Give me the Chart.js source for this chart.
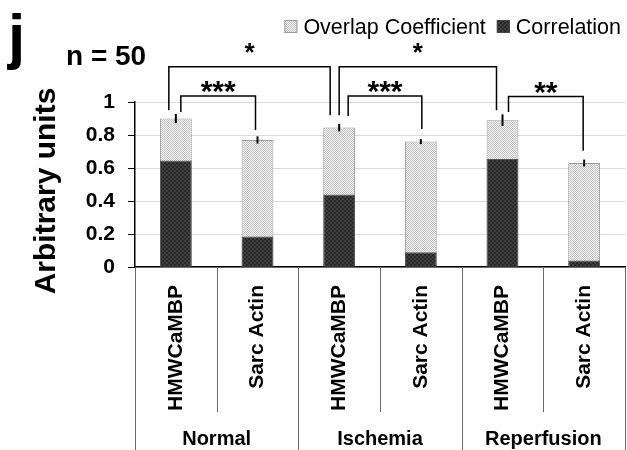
<!DOCTYPE html>
<html><head><meta charset="utf-8">
<script src="https://cdn.jsdelivr.net/npm/chart.js@4"></script>
<style>html,body{margin:0;padding:0;background:#fff}#wrap{width:627px;height:450px;position:relative}</style>
</head><body><div id="wrap"><canvas id="c"></canvas></div>
<script>
const categories = ['HMWCaMBP','Sarc Actin','HMWCaMBP','Sarc Actin','HMWCaMBP','Sarc Actin'];
const groups = ['Normal','Ischemia','Reperfusion'];
const overlapCoefficient = [0.90,0.77,0.845,0.76,0.89,0.63];
const overlapError = [0.028,0.022,0.023,0.015,0.035,0.021];
const correlation = [0.645,0.185,0.44,0.09,0.655,0.04];
const yTickLabels = ['0','0.2','0.4','0.6','0.8','1'];
const seriesNames = ['Overlap Coefficient','Correlation'];
const bracketFrom = [0,0,2,2,4];
const bracketTo = [1,2,4,3,5];
const bracketLabels = ['***','*','*','***','**'];
const bracketLevel = [1.036,1.214,1.214,1.036,1.033];
const bracketFromEnd = [0.94,0.95,0.92,0.915,0.94];
const bracketToEnd = [0.83,0.92,0.95,0.836,0.705];
const panelLetter = 'j';
const sampleNote = 'n = 50';
const yTitle = 'Arbitrary units';

// style: leg nudges (px) so that legs sharing a bar do not overlap
const legNudge = [[5,-2],[-7,-9],[0,-6],[9,1],[6,-1]];
const FONT = '"Liberation Sans", Arial, sans-serif';

function makePattern(a, b, size) {
  const c = document.createElement('canvas');
  c.width = size; c.height = size;
  const g = c.getContext('2d');
  g.fillStyle = a; g.fillRect(0,0,size,size);
  g.fillStyle = b;
  const h = size/2;
  g.fillRect(0,0,h,h); g.fillRect(h,h,h,h);
  return document.getElementById('c').getContext('2d').createPattern(c,'repeat');
}
const lightPat = makePattern('#f2f2f2','#c4c4c4',2);
const darkPat = makePattern('#2a2a2a','#3e3e3e',4);

const overlayPlugin = {
  id: 'overlay',
  afterDatasetsDraw(chart) {
    const ctx = chart.ctx, x = chart.scales.x, y = chart.scales.y;
    ctx.save();
    ctx.strokeStyle = '#000'; ctx.lineWidth = 2;
    overlapCoefficient.forEach((v,i) => {
      const px = x.getPixelForValue(i);
      ctx.beginPath();
      ctx.moveTo(px, y.getPixelForValue(v - overlapError[i]));
      ctx.lineTo(px, y.getPixelForValue(v + overlapError[i]));
      ctx.stroke();
    });
    ctx.restore();
  },
  afterDraw(chart) {
    const ctx = chart.ctx, x = chart.scales.x, y = chart.scales.y, ca = chart.chartArea;
    const H = chart.height;
    ctx.save();
    // category separators
    const n = categories.length;
    const step = (x.getPixelForValue(1) - x.getPixelForValue(0));
    ctx.strokeStyle = '#6a6a6a'; ctx.lineWidth = 1;
    for (let i = 0; i <= n; i++) {
      const bx = Math.round(x.getPixelForValue(i) - step/2) + 0.5;
      const isGroup = i % 2 === 0;
      ctx.beginPath();
      ctx.moveTo(bx, ca.bottom);
      ctx.lineTo(bx, isGroup ? H : ca.bottom + 145);
      ctx.stroke();
    }
    // group labels
    ctx.fillStyle = '#000';
    ctx.font = 'bold 20px ' + FONT;
    ctx.textAlign = 'center'; ctx.textBaseline = 'alphabetic';
    groups.forEach((g,gi) => {
      const cx = (x.getPixelForValue(gi*2) + x.getPixelForValue(gi*2+1))/2;
      ctx.fillText(g, cx, 445);
    });
    // y-axis title
    ctx.save();
    ctx.translate(55, 191);
    ctx.rotate(-Math.PI/2);
    ctx.font = 'bold 30px ' + FONT;
    ctx.fillText(yTitle, 0, 0);
    ctx.restore();
    // brackets
    ctx.strokeStyle = '#000'; ctx.lineWidth = 1.5;
    bracketFrom.forEach((f,bi) => {
      const x1 = x.getPixelForValue(f) + legNudge[bi][0];
      const x2 = x.getPixelForValue(bracketTo[bi]) + legNudge[bi][1];
      const yt = y.getPixelForValue(bracketLevel[bi]);
      ctx.beginPath();
      ctx.moveTo(x1, y.getPixelForValue(bracketFromEnd[bi]));
      ctx.lineTo(x1, yt);
      ctx.lineTo(x2, yt);
      ctx.lineTo(x2, y.getPixelForValue(bracketToEnd[bi]));
      ctx.stroke();
      const lab = bracketLabels[bi];
      const single = lab.length === 1;
      ctx.font = 'bold ' + (single ? 26 : 30) + 'px ' + FONT;
      ctx.fillText(lab, (x1+x2)/2, single ? yt - 6 : yt + 5);
    });
    // panel letter and note
    ctx.textAlign = 'left';
    ctx.font = 'bold 62px ' + FONT;
    ctx.fillText(panelLetter, 8, 57);
    ctx.font = 'bold 28px ' + FONT;
    ctx.fillText(sampleNote, 66, 65);
    // legend (right aligned)
    ctx.font = '21.5px ' + FONT;
    const pats = [lightPat, darkPat];
    const borders = ['#999','#444'];
    let right = 621;
    const items = [];
    for (let i = seriesNames.length - 1; i >= 0; i--) {
      const tw = ctx.measureText(seriesNames[i]).width;
      const tx = right - tw;
      const bx = tx - 19;
      items.push([i, tx, bx]);
      right = bx - 11;
    }
    items.forEach(([i,tx,bx]) => {
      ctx.fillStyle = pats[i];
      ctx.fillRect(bx, 20, 13, 13);
      ctx.strokeStyle = borders[i]; ctx.lineWidth = 1;
      ctx.strokeRect(bx+0.5, 20.5, 12, 12);
      ctx.fillStyle = '#000';
      ctx.fillText(seriesNames[i], tx, 34);
    });
    ctx.restore();
  }
};

new Chart(document.getElementById('c'), {
  type: 'bar',
  data: {
    labels: categories,
    datasets: [
      { label: seriesNames[0], data: overlapCoefficient, backgroundColor: lightPat,
        borderColor: '#9a9a9a', borderWidth: 1, order: 1, grouped: false,
        barPercentage: 0.39, categoryPercentage: 1 },
      { label: seriesNames[1], data: correlation, backgroundColor: darkPat,
        borderColor: '#555', borderWidth: 1, order: 0, grouped: false,
        barPercentage: 0.39, categoryPercentage: 1 }
    ]
  },
  options: {
    responsive: true, maintainAspectRatio: false, animation: false,
    layout: { padding: { top: 102, left: 0, right: 2, bottom: 0 } },
    plugins: { legend: { display: false }, tooltip: { enabled: false } },
    scales: {
      x: {
        grid: { display: false },
        border: { display: true, color: '#000', width: 1.5 },
        ticks: { autoSkip: false, maxRotation: 90, minRotation: 90, padding: 10,
          color: '#000', font: { family: FONT, size: 21, weight: 'bold' } },
        afterFit(s) { s.height = 183; }
      },
      y: {
        min: 0, max: 1,
        ticks: { stepSize: 0.2, padding: 13, color: '#000',
          font: { family: FONT, size: 21, weight: 'bold' },
          callback: (v, i) => yTickLabels[i] },
        grid: { color: '#d9d9d9', tickColor: '#000', tickLength: 7, drawTicks: true },
        border: { display: true, color: '#000', width: 1.5 },
        title: { display: false },
        afterFit(s) { s.width = 135; }
      }
    }
  },
  plugins: [overlayPlugin]
});
</script></body></html>
